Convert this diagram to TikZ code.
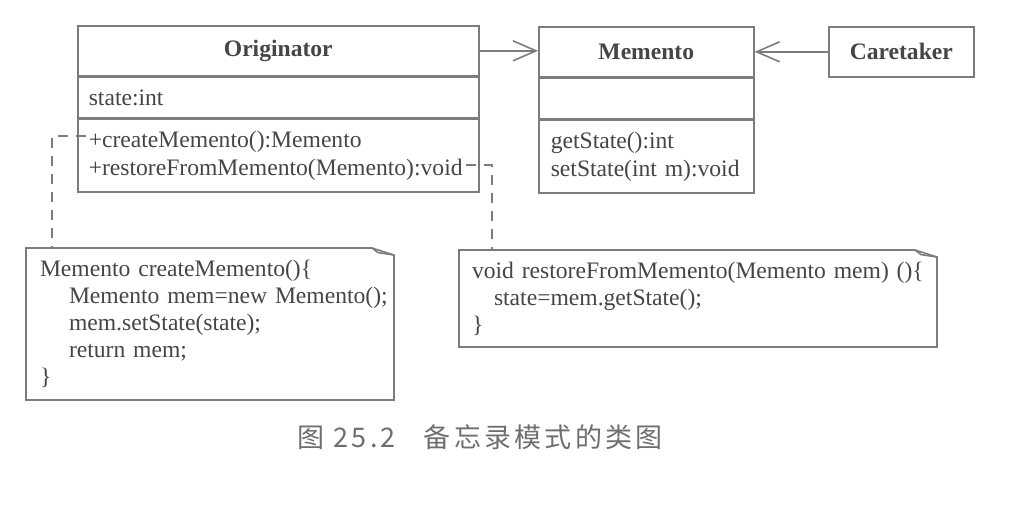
\documentclass[tikz,border=0pt]{standalone}
\usepackage{fontspec}
\setmainfont{Liberation Serif}
\newfontfamily\cjk[LetterSpace=12]{Noto Sans CJK SC}
\usetikzlibrary{positioning,arrows.meta}

\definecolor{umlline}{HTML}{7C7C7C}
\definecolor{umltext}{HTML}{454545}
\definecolor{captext}{HTML}{6E6E6E}

\tikzset{
  umlfont/.style={font=\fontsize{11.8}{14}\selectfont, text=umltext},
  classpart/.style={draw=umlline, line width=0.8pt, rectangle, umlfont, inner ysep=2pt, align=left},
  classhead/.style={classpart, font=\fontsize{11.8}{14}\selectfont\bfseries, minimum height=25pt, align=center},
  notebox/.style={rectangle, umlfont, font=\fontsize{11.8}{13.5}\selectfont, outer sep=0pt, align=left},
  noteline/.style={draw=umlline, line width=0.8pt},
  dashline/.style={draw=umlline, line width=0.8pt, dash pattern=on 5pt off 4pt},
  assoc/.style={draw=umlline, line width=0.8pt, -{Straight Barb[length=11.5pt,width=10pt,line width=0.8pt]}},
  caption/.style={font=\fontsize{13.5}{15}\selectfont, text=captext}
}

% note outline with folded corner
\newcommand\notefold[1]{%
  \draw[noteline] (#1.north west) -- ([xshift=-11pt]#1.north east)
    -- ([yshift=-3.5pt]#1.north east) -- (#1.south east) -- (#1.south west) -- cycle;
  \draw[noteline] ([xshift=-11pt]#1.north east) -- ([xshift=-8pt,yshift=-2.3pt]#1.north east)
    -- ([yshift=-3.5pt]#1.north east);}

\begin{document}
\begin{tikzpicture}[x=0.5pt, y=-0.5pt]
    \useasboundingbox (0,0) rectangle (1016,516);

    % Originator class
    \node[classhead, minimum width=200.5pt, anchor=north west] (orighead) at (77,25) {Originator};
    \node[classpart, minimum width=200.5pt, minimum height=20pt, inner xsep=5.5pt, text width=189.5pt,
          below=0pt of orighead] (origattr) {state:int};
    \node[classpart, minimum width=200.5pt, minimum height=36.5pt, inner xsep=5.5pt, text width=189.5pt,
          below=0pt of origattr] (origops) {+createMemento():Memento\\+restoreFromMemento(Memento):void};

    % Memento class
    \node[classhead, minimum width=107.5pt, anchor=north west] (memhead) at (538,26) {Memento};
    \node[classpart, minimum width=107.5pt, minimum height=20pt, inner xsep=6pt, text width=95.5pt,
          below=0pt of memhead] (memattr) {};
    \node[classpart, minimum width=107.5pt, minimum height=36.5pt, inner xsep=6pt, text width=95.5pt,
          below=0pt of memattr] (memops) {getState():int\\setState(int m):void};

    % Caretaker class
    \node[classhead, minimum width=72.5pt, minimum height=25pt, anchor=north west] (caretaker) at (828,26) {Caretaker};

    % Associations
    \draw[assoc] (orighead.east) -- (orighead.east -| memhead.west);
    \draw[assoc] (caretaker.west) -- (caretaker.west -| memhead.east);

    % Notes
    \node[notebox, minimum height=76pt, inner xsep=7pt, text width=170pt, anchor=north west] (createnote) at (26,248)
      {Memento createMemento()\{\\
       \hspace*{14.5pt}\mbox{Memento mem=new Memento();}\\
       \hspace*{14.5pt}mem.setState(state);\\
       \hspace*{14.5pt}return mem;\\
       \}};
    \notefold{createnote}

    \node[notebox, minimum height=48.5pt, inner xsep=6.5pt, text width=226pt, anchor=north west] (restorenote) at (459,250)
      {\mbox{void restoreFromMemento(Memento mem) ()\{}\\
       \hspace*{11pt}state=mem.getState();\\
       \}};
    \notefold{restorenote}

    % Note links
    \coordinate (createport) at (86,136);
    \coordinate (createdrop) at (52,136);
    \draw[dashline] (createport) -- (createdrop) -- (createdrop |- createnote.north);

    \coordinate (restoreport) at (466,165);
    \coordinate (restoredrop) at (492,165);
    \draw[dashline] (restoreport) -- (restoredrop) -- (restoredrop |- restorenote.north);

    % Caption
    \node[caption] (figcap) at (480,437) {\cjk 图 25.2\hspace{14pt}备忘录模式的类图};
\end{tikzpicture}
\end{document}
